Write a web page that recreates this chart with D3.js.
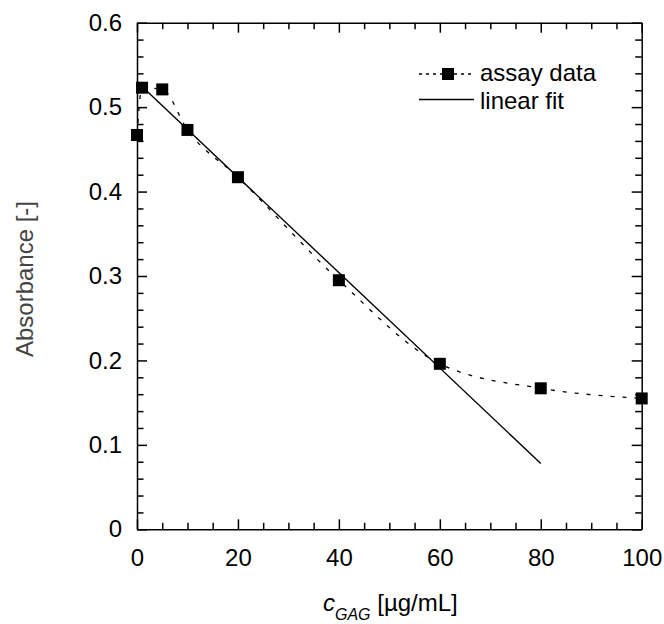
<!DOCTYPE html>
<meta charset="utf-8">
<script src="https://d3js.org/d3.v7.min.js"></script>
<style>
  body { margin: 0; background: #fff; }
  text { font-family: "Liberation Sans", Arial, sans-serif; }
</style>
<div id="chart"></div>
<script>
// assay data (concentration in ug/mL, absorbance)
var conc = [0, 1, 5, 10, 20, 40, 60, 80, 100];
var absorb = [0.467, 0.523, 0.521, 0.473, 0.417, 0.295, 0.196, 0.167, 0.155];
// linear fit end points
var fitConc = [0, 80];
var fitAbs = [0.530, 0.078];
var xTicks = [0, 20, 40, 60, 80, 100];
var yTicks = [0, 0.1, 0.2, 0.3, 0.4, 0.5, 0.6];

var W = 664, H = 624;
var margin = {top: 22.7, right: 22.3, bottom: 94.7, left: 137};
var width = W - margin.left - margin.right,
    height = H - margin.top - margin.bottom;

var svg = d3.select("#chart").append("svg")
    .attr("width", W)
    .attr("height", H);
var g = svg.append("g")
    .attr("transform", "translate(" + margin.left + "," + margin.top + ")");

var x = d3.scaleLinear().domain([0, 100]).range([0, width]);
var y = d3.scaleLinear().domain([0, 0.6]).range([height, 0]);

var xMinor = d3.range(0, 101, 5).filter(function(d) { return d % 20 != 0; });
var yMinor = d3.range(0, 31, 1).map(function(d) { return d * 0.02; })
    .filter(function(d, i) { return i % 5 != 0; });

function styleAxis(sel) {
  sel.selectAll("path, line").attr("stroke", "#000").attr("stroke-width", 1.5);
  sel.selectAll("text").attr("fill", "#000").style("font-size", "24px");
}

// bottom
g.append("g").attr("transform", "translate(0," + height + ")")
  .call(d3.axisBottom(x).tickValues(xTicks).tickSizeInner(-10).tickSizeOuter(0)
    .tickPadding(20).tickFormat(d3.format("d")))
  .call(styleAxis);
g.append("g").attr("transform", "translate(0," + height + ")")
  .call(d3.axisBottom(x).tickValues(xMinor).tickSize(-6.5).tickFormat(""))
  .call(styleAxis).select(".domain").remove();
// top
g.append("g")
  .call(d3.axisTop(x).tickValues(xTicks).tickSizeInner(-10).tickSizeOuter(0).tickFormat(""))
  .call(styleAxis);
g.append("g")
  .call(d3.axisTop(x).tickValues(xMinor).tickSize(-6.5).tickFormat(""))
  .call(styleAxis).select(".domain").remove();
// left
g.append("g")
  .call(d3.axisLeft(y).tickValues(yTicks).tickSizeInner(-10).tickSizeOuter(0)
    .tickPadding(15).tickFormat(function(d) { return d === 0 ? "0" : d3.format(".1f")(d); }))
  .call(styleAxis);
g.append("g")
  .call(d3.axisLeft(y).tickValues(yMinor).tickSize(-6.5).tickFormat(""))
  .call(styleAxis).select(".domain").remove();
// right
g.append("g").attr("transform", "translate(" + width + ",0)")
  .call(d3.axisRight(y).tickValues(yTicks).tickSizeInner(-10).tickSizeOuter(0).tickFormat(""))
  .call(styleAxis);
g.append("g").attr("transform", "translate(" + width + ",0)")
  .call(d3.axisRight(y).tickValues(yMinor).tickSize(-6.5).tickFormat(""))
  .call(styleAxis).select(".domain").remove();

var data = conc.map(function(c, i) { return {c: c, a: absorb[i]}; });
var fit = fitConc.map(function(c, i) { return {c: c, a: fitAbs[i]}; });

// dotted smooth curve through the assay data
g.append("path")
  .datum(data)
  .attr("fill", "none")
  .attr("stroke", "#000")
  .attr("stroke-width", 1.3)
  .attr("stroke-dasharray", "4,8")
  .attr("d", d3.line().curve(d3.curveMonotoneX)
    .x(function(d) { return x(d.c); })
    .y(function(d) { return y(d.a); }));

// linear fit
g.append("path")
  .datum(fit)
  .attr("fill", "none")
  .attr("stroke", "#000")
  .attr("stroke-width", 1.4)
  .attr("d", d3.line()
    .x(function(d) { return x(d.c); })
    .y(function(d) { return y(d.a); }));

// square markers
var sz = 12;
g.selectAll("rect.pt")
  .data(data)
  .enter().append("rect")
  .attr("class", "pt")
  .attr("x", function(d) { return x(d.c) - sz / 2; })
  .attr("y", function(d) { return y(d.a) - sz / 2; })
  .attr("width", sz)
  .attr("height", sz)
  .attr("fill", "#000");

// legend
var leg = svg.append("g");
leg.append("line")
  .attr("x1", 419).attr("x2", 474).attr("y1", 74).attr("y2", 74)
  .attr("stroke", "#000").attr("stroke-width", 1.3).attr("stroke-dasharray", "3,4");
leg.append("rect")
  .attr("x", 448 - sz / 2).attr("y", 74 - sz / 2)
  .attr("width", sz).attr("height", sz).attr("fill", "#000");
leg.append("text").attr("x", 480).attr("y", 81).style("font-size", "24px").text("assay data");
leg.append("line")
  .attr("x1", 419).attr("x2", 474).attr("y1", 99.5).attr("y2", 99.5)
  .attr("stroke", "#000").attr("stroke-width", 1.4);
leg.append("text").attr("x", 480).attr("y", 108.5).style("font-size", "24px").text("linear fit");

// axis titles
svg.append("text")
  .attr("transform", "translate(33,279) rotate(-90)")
  .attr("text-anchor", "middle")
  .attr("fill", "#444")
  .style("font-size", "24px")
  .text("Absorbance [-]");

var xt = svg.append("text").attr("x", 323).attr("y", 611).style("font-size", "24px");
xt.append("tspan").style("font-style", "italic").text("c");
xt.append("tspan").style("font-style", "italic").style("font-size", "16px").attr("dy", 9).text("GAG");
xt.append("tspan").attr("dy", -9).text(" [\u00b5g/mL]");
</script>
